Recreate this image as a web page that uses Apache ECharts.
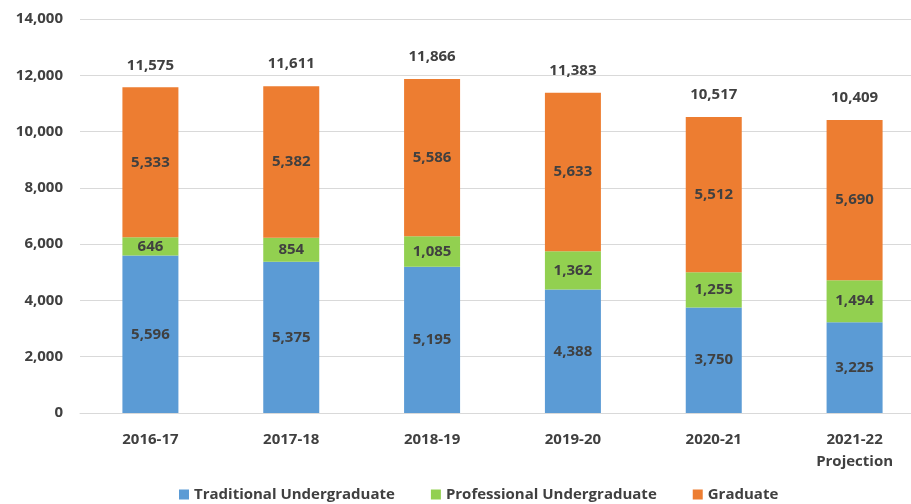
<!DOCTYPE html>
<html>
<head>
<meta charset="utf-8">
<script src="https://cdn.jsdelivr.net/npm/echarts@6/dist/echarts.min.js"></script>
<style>
  html, body { margin: 0; padding: 0; background: #fff; }
  #chart { width: 911px; height: 504px; }
</style>
</head>
<body>
<div id="chart"></div>
<script>
var years = ['2016-17', '2017-18', '2018-19', '2019-20', '2020-21', '2021-22\nProjection'];
var traditional = [5596, 5375, 5195, 4388, 3750, 3225];
var professional = [646, 854, 1085, 1362, 1255, 1494];
var graduate = [5333, 5382, 5586, 5633, 5512, 5690];
var totals = [11575, 11611, 11866, 11383, 10517, 10409];

var textColor = '#404040';
var fontFamily = '"Open Sans", "Noto Sans", sans-serif';

function fmt(v) {
    return v.toLocaleString('en-US');
}

var chart = echarts.init(document.getElementById('chart'));

var innerLabel = {
    show: true,
    position: 'inside',
    color: textColor,
    fontWeight: 'bold',
    fontSize: 15,
    fontFamily: fontFamily,
    formatter: function(p) { return fmt(p.value); }
};

var option = {
    animation: false,
    textStyle: { fontFamily: fontFamily },
    grid: {
        top: 19,
        left: 80,
        width: 845,
        bottom: 91,
        outerBoundsMode: 'none'
    },
    legend: {
        bottom: -3,
        left: 174,
        itemWidth: 10,
        itemHeight: 10,
        itemGap: 36,
        icon: 'rect',
        textStyle: {
            color: textColor,
            fontWeight: 'bold',
            fontSize: 15,
            fontFamily: fontFamily
        },
        data: ['Traditional Undergraduate', 'Professional Undergraduate', 'Graduate']
    },
    xAxis: {
        type: 'category',
        data: years,
        axisTick: { show: false },
        axisLine: { lineStyle: { color: '#d9d9d9' } },
        axisLabel: {
            color: textColor,
            fontWeight: 'bold',
            fontSize: 15,
            fontFamily: fontFamily,
            margin: 16,
            lineHeight: 22
        }
    },
    yAxis: {
        type: 'value',
        min: 0,
        max: 14000,
        interval: 2000,
        axisLine: { show: false },
        axisTick: { show: false },
        splitLine: { lineStyle: { color: '#d9d9d9' } },
        axisLabel: {
            color: textColor,
            fontWeight: 'bold',
            fontSize: 15,
            fontFamily: fontFamily,
            margin: 17,
            formatter: function(v) { return fmt(v); }
        }
    },
    series: [
        {
            name: 'Traditional Undergraduate',
            type: 'bar',
            stack: 'total',
            barWidth: 56,
            itemStyle: { color: '#5b9bd5' },
            label: innerLabel,
            data: traditional
        },
        {
            name: 'Professional Undergraduate',
            type: 'bar',
            stack: 'total',
            itemStyle: { color: '#92d050' },
            label: innerLabel,
            data: professional
        },
        {
            name: 'Graduate',
            type: 'bar',
            stack: 'total',
            itemStyle: { color: '#ed7d31' },
            label: innerLabel,
            data: graduate
        },
        {
            name: 'Total',
            type: 'line',
            data: totals,
            symbol: 'circle',
            symbolSize: 1,
            showAllSymbol: true,
            itemStyle: { color: 'rgba(0,0,0,0)' },
            lineStyle: { width: 0, color: 'rgba(0,0,0,0)' },
            silent: true,
            label: {
                show: true,
                position: 'top',
                distance: 14,
                color: textColor,
                fontWeight: 'bold',
                fontSize: 15,
                fontFamily: fontFamily,
                formatter: function(p) { return fmt(p.value); }
            }
        }
    ]
};

chart.setOption(option);

window.addEventListener('resize', function() {
    chart.resize();
});
</script>
</body>
</html>
